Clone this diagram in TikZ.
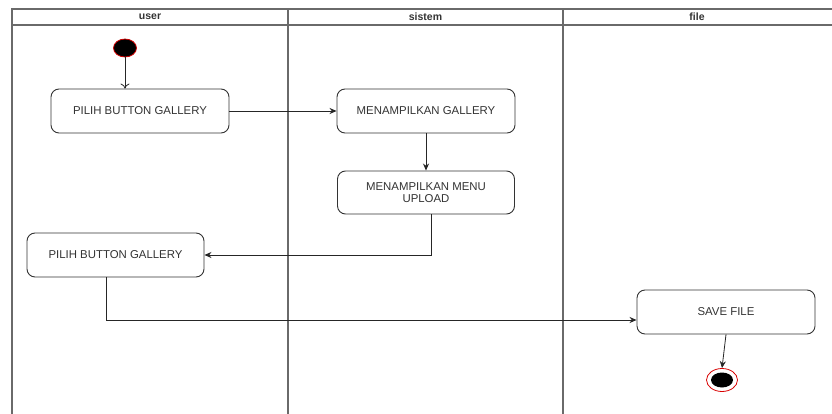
\documentclass[tikz,border=0pt]{standalone}
\usepackage{fontspec}
\setmainfont{Liberation Sans}
\usetikzlibrary{arrows.meta,shapes.geometric}
\definecolor{lane}{HTML}{6A6A6A}
\definecolor{ink}{HTML}{333333}
\tikzset{
  action/.style={draw=ink, line width=0.9pt, rounded corners=8pt, fill=white,
    minimum width=178pt, minimum height=44pt, align=center,
    font=\fontsize{11.4}{11.5}\selectfont, text=ink, inner sep=0pt},
  flow/.style={draw=black!85, line width=0.8pt, -{Stealth[length=7pt,width=6pt]}},
  openflow/.style={draw=black!85, line width=0.8pt, -{To[length=5pt,width=9pt]}},
  lanehead/.style={font=\bfseries\fontsize{10.5}{11}\selectfont, text=ink},
  laneline/.style={draw=lane, line width=1.6pt}
}
\begin{document}
\begin{tikzpicture}[x=1pt,y=-1pt]
\useasboundingbox (0,0) rectangle (832,414);
\fill[white] (0,0) rectangle (832,414);

% swimlane frame
\draw[laneline] (12,414) -- (12,9) -- (832,9);
\draw[laneline] (12,25) -- (832,25);
\draw[laneline] (288,9) -- (288,414);
\draw[laneline] (563,9) -- (563,414);
\node[lanehead] (huser) at (150,17) {user};
\node[lanehead] (hsis) at (425.5,17) {sistem};
\node[lanehead] (hfile) at (697,17) {file};

% start state
\node[draw=red!80!black, fill=black, line width=0.8pt, ellipse, minimum width=23pt, minimum height=18pt, inner sep=0pt] (start) at (125,48) {};

% actions
\node[action] (a1) at (140,111) {PILIH BUTTON GALLERY};
\node[action] (a2) at (426,111) {MENAMPILKAN GALLERY};
\node[action, minimum width=177pt, minimum height=43pt] (a3) at (426,192.5) {MENAMPILKAN MENU\\UPLOAD};
\node[action, minimum width=177pt] (a4) at (115.5,255) {PILIH BUTTON GALLERY};
\node[action] (a5) at (726,312) {SAVE FILE};

% end state
\node[draw=red!85!black, fill=white, line width=0.8pt, ellipse, minimum width=31pt, minimum height=23pt, inner sep=0pt] (stop) at (722,380) {};
\node[fill=black, ellipse, minimum width=22pt, minimum height=15pt, inner sep=0pt] (stopdot) at (stop.center) {};

% transitions
\draw[openflow] (start.south) -- (start.south |- a1.north);
\draw[flow] (a1) -- (a2);
\draw[flow] (a2) -- (a3);
\draw[flow] ([xshift=5pt]a3.south) |- (a4.east);
\draw[flow] ([xshift=-9.5pt]a4.south) |- ([yshift=-8pt]a5.west);
\draw[flow] (a5.south) -- (stop.north);
\end{tikzpicture}
\end{document}
